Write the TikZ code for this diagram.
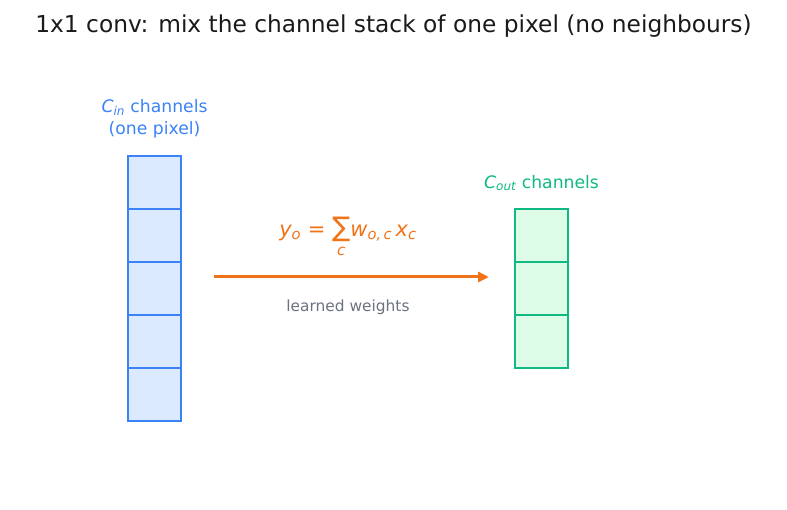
\documentclass[tikz,border=0pt]{standalone}
\usepackage{fontspec}
\setmainfont{DejaVu Sans}
\usetikzlibrary{arrows.meta}

\definecolor{inblue}{HTML}{3B82F6}
\definecolor{infill}{HTML}{DBEAFE}
\definecolor{outgreen}{HTML}{10B981}
\definecolor{outfill}{HTML}{DCFCE7}
\definecolor{weightorange}{HTML}{F07318}
\definecolor{notegray}{HTML}{6B7280}
\definecolor{titleblack}{HTML}{1A1A1A}

\newcommand{\isub}[2]{{\itshape #1}\textsubscript{\itshape #2}}

\tikzset{
    incell/.style={draw=inblue, fill=infill, line width=1.5pt,
        minimum size=53pt, inner sep=0pt},
    outcell/.style={draw=outgreen, fill=outfill, line width=1.5pt,
        minimum size=53pt, inner sep=0pt},
    weightarrow/.style={draw=weightorange, line width=3pt,
        -{Stealth[length=11pt, width=10pt, inset=0pt]}}
}

\begin{document}
\begin{tikzpicture}[x=1pt, y=-1pt]
    \useasboundingbox (0,0) rectangle (787,510);
    \pgfmathsetmacro\cell{53};

    \node[text=titleblack, font=\fontsize{23.3}{28}\selectfont] (title)
        at (393.5, 26.5) {1x1 conv: mix the channel stack of one pixel (no neighbours)};

    % input stack, one pixel
    \foreach \i in {0,...,4}
        \node[incell] (in\i) at (154.5, 182.5 + \i * \cell) {};
    \node[text=inblue, align=center, font=\fontsize{17.2}{22}\selectfont] (inlabel)
        at (154.5, 119) {\isub{C}{in} channels\\(one pixel)};

    % output stack
    \foreach \i in {0,...,2}
        \node[outcell] (out\i) at (541.5, 235.5 + \i * \cell) {};
    \node[text=outgreen, font=\fontsize{17.2}{22}\selectfont] (outlabel)
        at (541.5, 183) {\isub{C}{out} channels};

    % weights
    \coordinate (arrowstart) at (214, 277);
    \coordinate (arrowend) at (489, 277);
    \draw[weightarrow] (arrowstart) -- (arrowend);
    \node[text=weightorange, font=\fontsize{21}{24}\selectfont] (formula)
        at (348, 240) {\isub{y}{o} = \begin{tabular}[t]{@{}c@{}}{\fontsize{27}{28}\selectfont ∑}\\[-5pt]{\fontsize{15}{16}\selectfont\itshape c}\end{tabular}\isub{w}{o,\,c}\,\isub{x}{c}};
    \node[text=notegray, font=\fontsize{15.4}{18}\selectfont] (note)
        at (348, 307) {learned weights};
\end{tikzpicture}
\end{document}
